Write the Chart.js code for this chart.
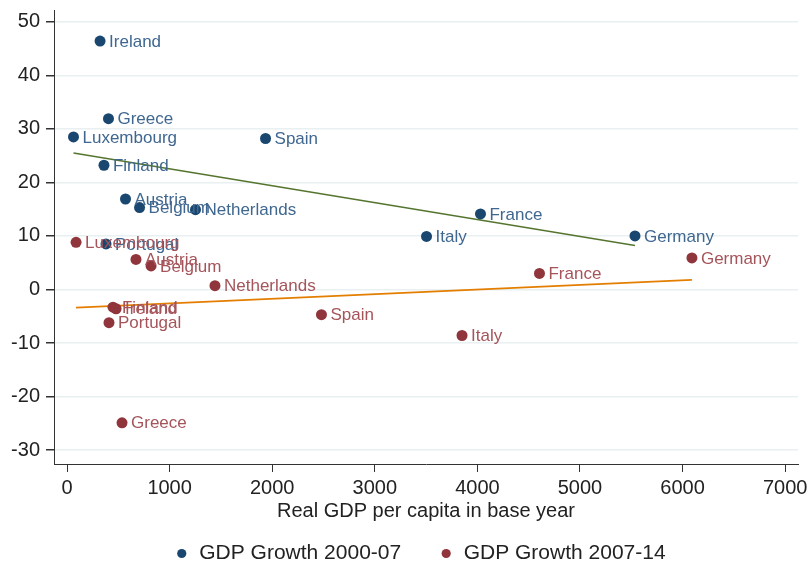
<!DOCTYPE html>
<html>
<head>
<meta charset="utf-8">
<script src="https://cdn.jsdelivr.net/npm/chart.js@4.4.1/dist/chart.umd.min.js"></script>
<style>
  html, body { margin: 0; padding: 0; background: #fff; }
  #wrap { width: 809px; height: 567px; }
</style>
</head>
<body>
<div id="wrap"><canvas id="gdpChart"></canvas></div>
<script>
// ===== DATA =====
const countriesA = ["Ireland", "Greece", "Luxembourg", "Spain", "Finland", "Austria",
  "Belgium", "Netherlands", "France", "Italy", "Germany", "Portugal"];
const baseGdpA = [322, 404, 63, 1935, 360, 570, 707, 1252, 4030, 3504, 5536, 380];
const growthA = [46.4, 31.9, 28.5, 28.2, 23.2, 16.9, 15.3, 14.9, 14.1, 9.9, 10.0, 8.5];

const countriesB = ["Luxembourg", "Austria", "Belgium", "Netherlands", "Finland", "Ireland",
  "Portugal", "Spain", "Italy", "France", "Germany", "Greece"];
const baseGdpB = [88, 672, 819, 1442, 448, 478, 409, 2480, 3850, 4605, 6091, 536];
const growthB = [8.8, 5.6, 4.4, 0.7, -3.3, -3.6, -6.2, -4.7, -8.6, 3.0, 5.9, -24.9];

// fitted lines, endpoints
const fitXA = [63, 5536];
const fitYA = [25.5, 8.2];
const fitXB = [88, 6091];
const fitYB = [-3.4, 1.8];

const xTicks = [0, 1000, 2000, 3000, 4000, 5000, 6000, 7000];
const yTicks = [-30, -20, -10, 0, 10, 20, 30, 40, 50];

const seriesNames = ["GDP Growth 2000-07", "GDP Growth 2007-14"];

const toPoints = (xs, ys) => xs.map((x, i) => ({ x: x, y: ys[i] }));

const FONT = "'Liberation Sans', Arial, sans-serif";

// country names to the right of each marker
const pointLabels = {
  id: "pointLabels",
  afterDatasetsDraw(chart) {
    const ctx = chart.ctx;
    ctx.save();
    ctx.font = "17px " + FONT;
    ctx.textBaseline = "middle";
    ctx.textAlign = "left";
    chart.data.datasets.forEach((ds, di) => {
      if (!ds.names) return;
      const meta = chart.getDatasetMeta(di);
      ctx.fillStyle = ds.labelColor;
      meta.data.forEach((pt, i) => {
        ctx.fillText(ds.names[i], pt.x + 9, pt.y + 1);
      });
    });
    ctx.restore();
  }
};

// no extra room for edge tick labels
const noEdgePadding = s => {
  s.paddingTop = 0;
  s.paddingBottom = 0;
  s.paddingLeft = 0;
  s.paddingRight = 0;
};

const ctx = document.getElementById("gdpChart");

new Chart(ctx, {
  type: "scatter",
  data: {
    datasets: [
      {
        label: seriesNames[0] + "      ",
        data: toPoints(baseGdpA, growthA),
        names: countriesA,
        labelColor: "#3f6790",
        backgroundColor: "#1a476f",
        pointRadius: 5.5,
        pointBorderWidth: 0
      },
      {
        label: seriesNames[1] + "  ",
        data: toPoints(baseGdpB, growthB),
        names: countriesB,
        labelColor: "#a5545a",
        backgroundColor: "#90353b",
        pointRadius: 5.5,
        pointBorderWidth: 0
      },
      {
        label: "fitA",
        type: "line",
        data: toPoints(fitXA, fitYA),
        borderColor: "#55752f",
        borderWidth: 1.6,
        pointRadius: 0,
        fill: false
      },
      {
        label: "fitB",
        type: "line",
        data: toPoints(fitXB, fitYB),
        borderColor: "#e37e00",
        borderWidth: 1.6,
        pointRadius: 0,
        fill: false
      }
    ]
  },
  options: {
    responsive: true,
    maintainAspectRatio: false,
    animation: false,
    layout: { padding: { top: 10, right: 11, left: 0, bottom: -7 } },
    plugins: {
      tooltip: { enabled: false },
      legend: {
        position: "bottom",
        fullSize: false,
        labels: {
          filter: item => item.datasetIndex < 2,
          usePointStyle: true,
          pointStyle: "circle",
          boxWidth: 14,
          boxHeight: 6.5,
          padding: 3,
          color: "#222",
          font: { family: FONT, size: 21 }
        }
      }
    },
    scales: {
      x: {
        type: "linear",
        min: -127,
        max: 7125,
        afterBuildTicks: s => { s.ticks = xTicks.map(v => ({ value: v })); },
        afterFit: s => { s.height = 76; noEdgePadding(s); },
        border: { display: true, color: "#333", width: 1 },
        grid: { drawOnChartArea: false, drawTicks: true, tickLength: 8, tickColor: "#333" },
        ticks: {
          padding: 4,
          maxRotation: 0,
          color: "#222",
          font: { family: FONT, size: 20 },
          callback: v => String(v)
        },
        title: {
          display: true,
          text: "Real GDP per capita in base year",
          color: "#222",
          padding: { top: 0, bottom: 17 },
          font: { family: FONT, size: 20 }
        }
      },
      y: {
        type: "linear",
        min: -32.6,
        max: 52.2,
        afterBuildTicks: s => { s.ticks = yTicks.map(v => ({ value: v })); },
        afterFit: s => { s.width = 54; noEdgePadding(s); },
        border: { display: true, color: "#333", width: 1 },
        grid: { color: "#e8f0f2", lineWidth: 1.5, tickLength: 8, tickColor: "#333" },
        ticks: {
          padding: 6,
          color: "#222",
          font: { family: FONT, size: 20 },
          callback: v => String(v)
        }
      }
    }
  },
  plugins: [pointLabels]
});
</script>
</body>
</html>
